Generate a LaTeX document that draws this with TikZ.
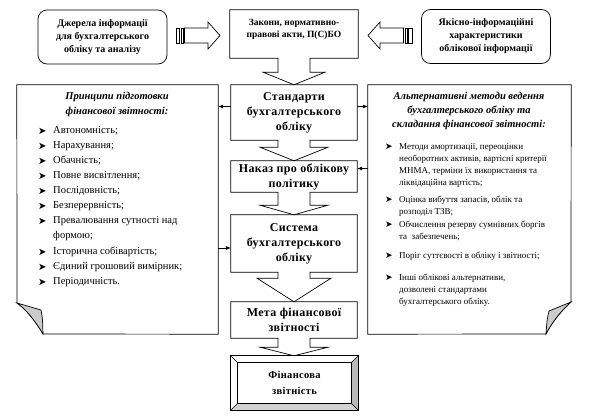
\documentclass[tikz,border=0pt]{standalone}
\usepackage{fontspec}
\setmainfont{Liberation Serif}
\newfontfamily\dv{DejaVu Sans}
\usetikzlibrary{calc,arrows.meta}
\newcommand\mycall[4]{%
 \draw[outl] (#1.north west) -- (#1.north east) -- (#1.south east) -- ($(#1.south)+(16,0)$) -- ($(#1.south)+(16,#2)$) -- ($(#1.south)+(#3,#2)$) -- (#1.south |- #4.north) -- ($(#1.south)+(-#3,#2)$) -- ($(#1.south)+(-16,#2)$) -- ($(#1.south)+(-16,0)$) -- (#1.south west) -- cycle;}
\newcommand\lbul[3]{\node[bul] (#1b) at (38,#2) {➤};\node[ltxt] (#1) at (53,#2) {\strut #3};}
\newcommand\rbul[3]{\node[rbulsty] (#1b) at (385,#2) {➤};\node[rtxt] (#1) at (399,#2) {\strut #3};}
\newcommand\rline[3]{\node[rtxt] (#1) at (399,#2) {\strut #3};}
\begin{document}
\begin{tikzpicture}[x=1pt,y=-1pt,
 outl/.style={draw=black,line width=0.7pt},
 rbox/.style={draw=black,line width=0.7pt,rounded corners=9pt,minimum width=129,minimum height=54,inner sep=0,align=center,font=\bfseries\fontsize{10}{13}\selectfont},
 cbox/.style={minimum width=126,inner sep=0,align=center,font=\bfseries\fontsize{12}{15}\selectfont\addfontfeature{LetterSpace=3}},
 ctxt/.style={inner sep=0,align=center},
 bul/.style={inner sep=0,anchor=west,font=\dv\fontsize{10}{10}\selectfont},
 rbulsty/.style={inner sep=0,anchor=west,font=\dv\fontsize{9}{9}\selectfont},
 ltxt/.style={inner sep=0,anchor=west,font=\fontsize{10.5}{13}\selectfont},
 rtxt/.style={inner sep=0,anchor=west,font=\fontsize{9}{12}\selectfont},
 ttl/.style={inner sep=0,font=\bfseries\itshape\fontsize{10.5}{13}\selectfont},
 conn/.style={line width=0.6pt,-{Latex[length=5pt,width=4pt]}},
 panel/.style={minimum height=249,inner sep=0}
]
\useasboundingbox (0,0) rectangle (589,418);

% top boxes
\node[rbox] (src) at (102.5,37) {Джерела інформації\\для бухгалтерського\\обліку та аналізу};
\node[rbox] (qual) at (486,36.5) {Якісно-інформаційні\\характеристики\\облікової інформації};

% central column
\node[cbox,minimum width=128,minimum height=48] (law) at (294,34) {};
\node[ctxt,font=\bfseries\fontsize{9.5}{12}\selectfont] (lawt) at (294,29) {Закони, нормативно-\\правові акти, П(С)БО};
\node[cbox,minimum height=55] (std) at (294,112.5) {Стандарти\\бухгалтерського\\обліку};
\node[cbox,minimum height=31] (nak) at (294,176.5) {Наказ про облікову\\політику};
\node[cbox,minimum height=57] (sys) at (294,243.5) {Система\\бухгалтерського\\обліку};
\node[cbox,minimum height=36] (meta) at (294,320) {Мета фінансової\\звітності};
\node[cbox,minimum width=127,minimum height=54,font=\bfseries\fontsize{10.5}{16}\selectfont\addfontfeature{LetterSpace=3}] (fin) at (294.5,383) {Фінансова\\звітність};

\mycall{law}{14}{31}{std}
\mycall{std}{7}{34}{nak}
\mycall{nak}{13}{34}{sys}
\mycall{sys}{6}{37}{meta}
\mycall{meta}{9}{34}{fin}

% bevelled final box
\fill[gray!55] (fin.north east) -- (fin.south east) -- ($(fin.south east)+(-7,-7)$) -- ($(fin.north east)+(-7,7)$) -- cycle;
\fill[gray!35] (fin.south west) -- (fin.south east) -- ($(fin.south east)+(-7,-7)$) -- ($(fin.south west)+(7,-7)$) -- cycle;
\draw[outl] (fin.north west) rectangle (fin.south east);
\draw[outl] ($(fin.north west)+(7,7)$) rectangle ($(fin.south east)+(-7,-7)$);
\draw[line width=0.5pt] (fin.north west) -- ++(7,7) (fin.north east) -- ++(-7,7) (fin.south west) -- ++(7,-7) (fin.south east) -- ++(-7,-7);

% striped block arrows
\draw[outl] (176,28) rectangle (179.5,43);
\draw[outl] (181,28) rectangle (183,43);
\draw[outl] (184.5,28) -- (208,28) -- (208,22) -- (220,35.5) -- (208,49) -- (208,43) -- (184.5,43) -- cycle;
\draw[outl] (412,28) rectangle (408.5,43);
\draw[outl] (407,28) rectangle (405,43);
\draw[outl] (403.5,28) -- (380,28) -- (380,22) -- (368,35.5) -- (380,49) -- (380,43) -- (403.5,43) -- cycle;

% side panels
\node[panel,minimum width=201] (lp) at (117.5,209.5) {};
\node[panel,minimum width=203] (rp) at (469.5,209.5) {};
\draw[outl] (lp.north west) -- (lp.north east) -- (lp.south east) -- (43,334) .. controls (36,322) and (26,309) .. (17,303) -- cycle;
\draw[outl,fill=gray!40] (17,303) -- (41,310) .. controls (42.5,318) .. (43,334) .. controls (36,322) and (26,309) .. (17,303) -- cycle;
\draw[outl] (rp.north west) -- (rp.north east) -- (571,302) .. controls (562,310) and (552,322) .. (546,334) -- (rp.south west) -- cycle;
\draw[outl,fill=gray!40] (571,302) -- (549,311) .. controls (547,320) .. (546,334) .. controls (552,322) and (562,310) .. (571,302) -- cycle;

% left panel text
\node[ttl] (lt1) at (117,97) {Принципи підготовки};
\node[ttl] (lt2) at (117,112) {фінансової звітності:};
\lbul{l1}{131}{Автономність;}
\lbul{l2}{146}{Нарахування;}
\lbul{l3}{161}{Обачність;}
\lbul{l4}{176}{Повне висвітлення;}
\lbul{l5}{191}{Послідовність;}
\lbul{l6}{206}{Безперервність;}
\lbul{l7}{221}{Превалювання сутності над}
\node[ltxt] (l7a) at (53,236) {\strut формою;};
\lbul{l8}{252}{Історична собівартість;}
\lbul{l9}{267}{Єдиний грошовий вимірник;}
\lbul{l10}{282}{Періодичність.}

% right panel text
\node[ttl] (rt1) at (469,97) {Альтернативні методи ведення};
\node[ttl] (rt2) at (469,111) {бухгалтерського обліку та};
\node[ttl] (rt3) at (469,125) {складання фінансової звітності:};
\rbul{r1}{147}{Методи амортизації, переоцінки}
\rline{r1a}{159}{необоротних активів, вартісні критерії}
\rline{r1b}{171}{МНМА, терміни їх використання та}
\rline{r1c}{183}{ліквідаційна вартість;}
\rbul{r2}{200}{Оцінка вибуття запасів, облік та}
\rline{r2a}{212}{розподіл ТЗВ;}
\rbul{r3}{225}{Обчислення резерву сумнівних боргів}
\rline{r3a}{237}{та~ забезпечень;}
\rbul{r4}{256}{Поріг суттєвості в обліку і звітності;}
\rbul{r5}{278}{Інші облікові альтернативи,}
\rline{r5a}{290}{дозволені стандартами}
\rline{r5b}{302}{бухгалтерського обліку.}

% connectors
\draw[conn] ([yshift=6pt]std.west) -- ([yshift=6pt]std.west -| lp.east);
\draw[conn] ([yshift=6pt]std.east) -- ([yshift=6pt]std.east -| rp.west);
\draw[conn] ([yshift=8pt]nak.east -| rp.west) -- ([yshift=8pt]nak.east);
\draw[conn] ([yshift=-4.5pt]sys.west -| lp.east) -- ([yshift=-4.5pt]sys.west);
\end{tikzpicture}
\end{document}
